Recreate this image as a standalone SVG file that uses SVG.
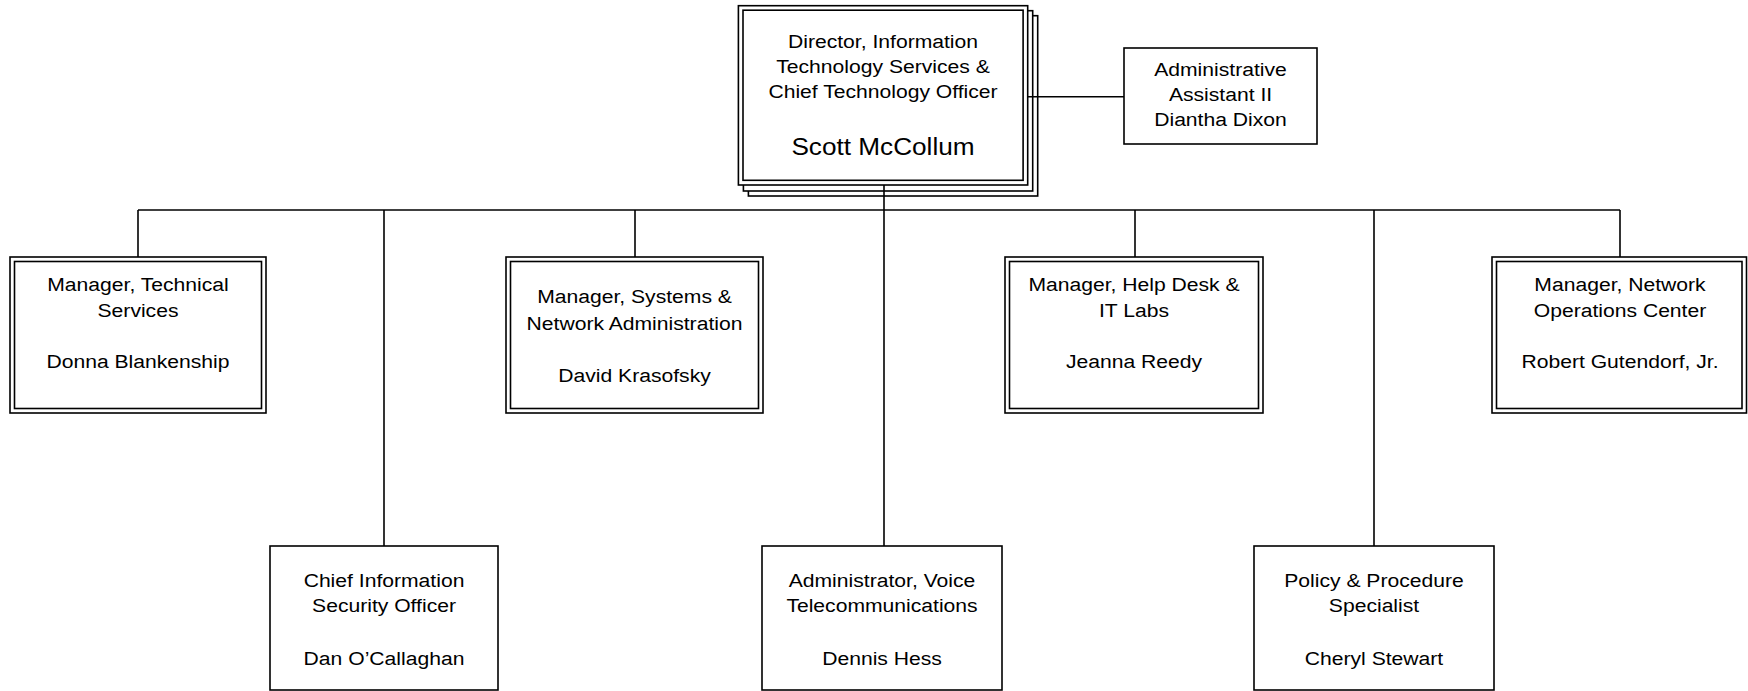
<svg xmlns="http://www.w3.org/2000/svg" width="1748" height="691" viewBox="0 0 1748 691">
<style>
.b{fill:#fff;stroke:#000;stroke-width:1.6}
.t{font-family:"Liberation Sans",Arial,sans-serif;font-size:19.2px;text-anchor:middle;fill:#000}
.big{font-size:23.8px}
.c line{stroke:#000;stroke-width:1.6}
</style>
<rect width="1748" height="691" fill="#fff"/>
<g id="director">
<rect class="b" x="748.4" y="15.7" width="289.3" height="180.3"/>
<rect class="b" x="743.4" y="10.7" width="289.3" height="180.3"/>
<rect class="b" x="738.4" y="5.7" width="289.3" height="179.3"/>
<rect class="b" x="743" y="10.2" width="280.1" height="170.1"/>
<g transform="translate(883 0) scale(1.1 1)">
<text class="t" x="0" y="47.7">Director, Information</text>
<text class="t" x="0" y="73.2">Technology Services &amp;</text>
<text class="t" x="0" y="98">Chief Technology Officer</text>
<text class="t big" x="0" y="155">Scott McCollum</text>
</g>
</g>
<g id="admin">
<rect class="b" x="1124" y="48" width="193" height="96"/>
<g transform="translate(1220.5 0) scale(1.1 1)">
<text class="t" x="0" y="76.4">Administrative</text>
<text class="t" x="0" y="101.4">Assistant II</text>
<text class="t" x="0" y="126.4">Diantha Dixon</text>
</g>
</g>
<g id="tech">
<rect class="b" x="10" y="257" width="256" height="156"/>
<rect class="b" x="14.5" y="261.5" width="247" height="147"/>
<g transform="translate(138 0) scale(1.1 1)">
<text class="t" x="0" y="291">Manager, Technical</text>
<text class="t" x="0" y="317">Services</text>
<text class="t" x="0" y="368.3">Donna Blankenship</text>
</g>
</g>
<g id="systems">
<rect class="b" x="506" y="257" width="257" height="156"/>
<rect class="b" x="510.5" y="261.5" width="248" height="147"/>
<g transform="translate(634.5 0) scale(1.1 1)">
<text class="t" x="0" y="303.2">Manager, Systems &amp;</text>
<text class="t" x="0" y="329.7">Network Administration</text>
<text class="t" x="0" y="381.7">David Krasofsky</text>
</g>
</g>
<g id="helpdesk">
<rect class="b" x="1005" y="257" width="258" height="156"/>
<rect class="b" x="1009.5" y="261.5" width="249" height="147"/>
<g transform="translate(1134 0) scale(1.1 1)">
<text class="t" x="0" y="291">Manager, Help Desk &amp;</text>
<text class="t" x="0" y="317">IT Labs</text>
<text class="t" x="0" y="368.3">Jeanna Reedy</text>
</g>
</g>
<g id="noc">
<rect class="b" x="1492" y="257" width="254.5" height="156"/>
<rect class="b" x="1496.5" y="261.5" width="245.5" height="147"/>
<g transform="translate(1620 0) scale(1.1 1)">
<text class="t" x="0" y="291">Manager, Network</text>
<text class="t" x="0" y="317">Operations Center</text>
<text class="t" x="0" y="368.3">Robert Gutendorf, Jr.</text>
</g>
</g>
<g id="ciso">
<rect class="b" x="270" y="546" width="228" height="144"/>
<g transform="translate(384 0) scale(1.1 1)">
<text class="t" x="0" y="586.7">Chief Information</text>
<text class="t" x="0" y="612.5">Security Officer</text>
<text class="t" x="0" y="664.5">Dan O’Callaghan</text>
</g>
</g>
<g id="voice">
<rect class="b" x="762" y="546" width="240" height="144"/>
<g transform="translate(882 0) scale(1.1 1)">
<text class="t" x="0" y="586.7">Administrator, Voice</text>
<text class="t" x="0" y="612.5">Telecommunications</text>
<text class="t" x="0" y="664.5">Dennis Hess</text>
</g>
</g>
<g id="policy">
<rect class="b" x="1254" y="546" width="240" height="144"/>
<g transform="translate(1374 0) scale(1.1 1)">
<text class="t" x="0" y="586.7">Policy &amp; Procedure</text>
<text class="t" x="0" y="612.5">Specialist</text>
<text class="t" x="0" y="664.5">Cheryl Stewart</text>
</g>
</g>
<g id="connectors" class="c">
<line x1="1027.7" y1="96.7" x2="1124" y2="96.7"/>
<line x1="884" y1="185" x2="884" y2="546"/>
<line x1="138" y1="210" x2="1620" y2="210"/>
<line x1="138" y1="210" x2="138" y2="257"/>
<line x1="384" y1="210" x2="384" y2="546"/>
<line x1="635" y1="210" x2="635" y2="257"/>
<line x1="1135" y1="210" x2="1135" y2="257"/>
<line x1="1374" y1="210" x2="1374" y2="546"/>
<line x1="1620" y1="210" x2="1620" y2="257"/>
</g>
</svg>
